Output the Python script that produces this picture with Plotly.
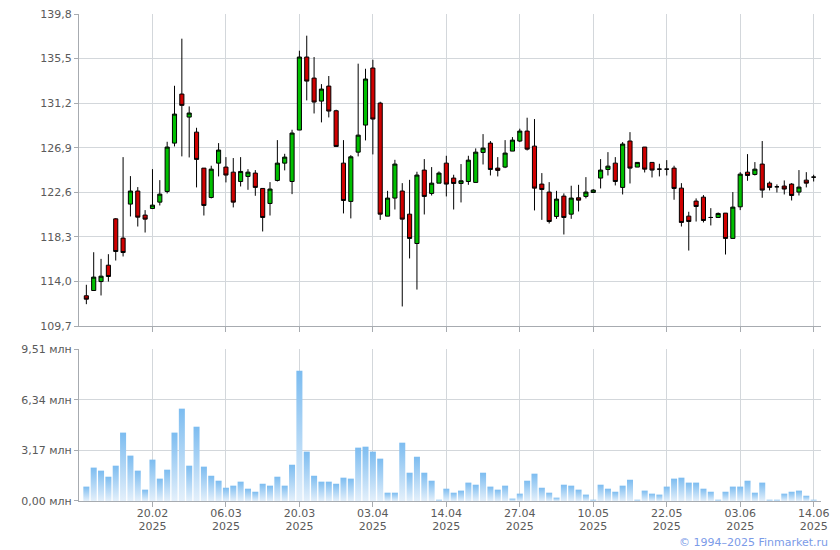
import plotly.graph_objects as go

# ---- data ----
opens = [112.63, 113.14, 114.00, 115.58, 120.05, 118.19, 121.47, 122.73, 120.41, 121.05,
         121.66, 122.69, 127.35, 132.08, 129.86, 128.41, 124.94, 122.11, 125.42, 125.04,
         124.55, 123.65, 124.14, 124.46, 122.98, 121.53, 123.75, 125.42, 123.65, 128.61,
         135.65, 133.62, 131.40, 132.85, 130.47, 125.42, 121.73, 126.48, 129.09, 134.59,
         131.21, 120.31, 122.05, 122.73, 120.50, 117.67, 124.75, 122.50, 123.49, 125.42,
         123.98, 123.46, 123.65, 123.56, 126.45, 127.35, 124.94, 125.04, 126.58, 127.55,
         128.51, 127.06, 123.40, 122.63, 120.28, 122.24, 120.50, 122.08, 122.21, 122.59,
         123.98, 124.81, 125.42, 123.08, 127.55, 125.04, 126.97, 125.49, 124.84, 124.84,
         124.94, 123.01, 120.31, 121.76, 122.14, 120.18, 120.18, 120.60, 118.16, 121.21,
         124.55, 124.33, 125.33, 123.49, 123.14, 123.21, 123.40, 122.63, 123.78, 124.07]
highs = [113.69, 116.83, 116.19, 116.64, 120.12, 126.00, 124.17, 123.11, 120.89, 124.84,
         123.78, 127.48, 132.88, 137.42, 130.89, 128.83, 124.94, 125.17, 127.35, 126.00,
         125.91, 126.00, 124.84, 124.75, 122.98, 123.59, 127.64, 126.32, 128.64, 136.26,
         137.71, 135.65, 133.04, 133.82, 130.57, 127.64, 126.19, 135.01, 134.52, 135.39,
         131.34, 122.75, 125.74, 123.49, 123.81, 124.59, 125.81, 125.04, 124.62, 126.13,
         124.30, 125.33, 126.13, 126.84, 128.22, 127.55, 126.00, 127.64, 127.93, 128.74,
         129.80, 129.67, 124.46, 123.59, 122.75, 122.50, 123.24, 123.33, 124.07, 122.92,
         125.81, 126.48, 126.00, 127.45, 128.41, 125.49, 126.97, 125.49, 125.36, 125.71,
         125.17, 123.49, 120.73, 122.02, 122.34, 121.08, 120.66, 120.60, 122.63, 124.55,
         126.29, 125.52, 127.55, 123.65, 123.37, 123.75, 123.49, 124.75, 124.55, 124.30]
lows = [111.82, 113.14, 112.66, 114.00, 116.03, 116.42, 120.28, 119.31, 118.73, 120.99,
        121.34, 122.50, 127.03, 126.07, 125.97, 123.08, 120.37, 122.02, 124.14, 123.56,
        121.15, 123.17, 122.85, 122.27, 118.83, 120.37, 123.65, 124.72, 122.43, 128.61,
        131.47, 130.21, 129.35, 129.83, 127.03, 120.57, 120.09, 126.07, 127.61, 126.26,
        119.95, 120.31, 120.95, 111.60, 116.23, 113.23, 120.47, 122.30, 123.49, 122.21,
        120.95, 121.63, 123.33, 123.56, 125.29, 124.23, 124.14, 124.94, 126.58, 127.45,
        126.64, 120.86, 119.95, 119.60, 120.05, 118.54, 120.05, 120.76, 122.02, 122.59,
        122.98, 124.23, 123.27, 122.40, 123.46, 125.04, 124.52, 124.04, 124.14, 124.23,
        121.89, 119.31, 116.99, 119.79, 119.70, 119.41, 120.18, 116.61, 118.16, 120.89,
        123.72, 124.23, 122.08, 122.79, 122.59, 122.40, 121.82, 122.30, 123.08, 123.65]
closes = [112.30, 114.43, 114.52, 114.49, 116.90, 116.80, 122.73, 120.21, 120.02, 121.37,
          122.43, 126.97, 130.15, 130.99, 130.25, 125.78, 121.34, 124.84, 126.68, 124.27,
          121.66, 124.62, 124.55, 123.08, 120.18, 122.92, 125.42, 126.00, 128.32, 135.65,
          133.33, 131.31, 132.56, 130.44, 127.03, 121.82, 126.03, 128.12, 133.53, 129.67,
          120.50, 122.05, 125.33, 120.02, 118.16, 124.27, 122.21, 123.49, 124.46, 123.40,
          123.46, 123.72, 125.71, 126.48, 126.87, 124.81, 124.72, 126.39, 127.64, 128.51,
          126.77, 123.01, 122.88, 119.79, 121.95, 120.18, 122.05, 121.85, 122.63, 122.82,
          124.75, 125.13, 123.65, 127.26, 124.94, 125.49, 124.84, 124.75, 124.84, 124.84,
          122.98, 119.70, 119.79, 121.24, 119.89, 120.18, 120.57, 118.16, 121.18, 124.36,
          124.23, 124.84, 122.82, 123.08, 123.14, 122.92, 122.30, 123.11, 123.49, 124.07]
volumes_mln = [0.90, 2.09, 1.90, 1.52, 2.21, 4.28, 2.84, 1.90, 0.71, 2.59,
               1.40, 1.96, 4.28, 5.78, 2.21, 4.65, 2.15, 1.58, 1.27, 0.83,
               0.96, 1.21, 0.77, 0.58, 1.08, 0.96, 1.52, 0.96, 2.27, 8.15,
               3.09, 1.58, 1.21, 1.21, 1.08, 1.46, 1.40, 3.34, 3.40, 3.09,
               2.65, 0.52, 0.52, 3.65, 1.77, 2.77, 1.77, 1.27, 0.08, 0.77,
               0.52, 0.65, 1.15, 1.02, 1.77, 0.90, 0.71, 0.96, 0.15, 0.46,
               1.27, 1.71, 0.83, 0.52, 0.21, 1.02, 0.96, 0.71, 0.40, 0.08,
               1.02, 0.77, 0.58, 0.96, 1.33, 0.08, 0.65, 0.46, 0.40, 0.90,
               1.40, 1.46, 1.15, 1.15, 0.77, 0.58, 0.08, 0.58, 0.90, 0.90,
               1.27, 0.52, 1.15, 0.08, 0.08, 0.46, 0.58, 0.65, 0.33, 0.08]

date_labels = ["20.02", "06.03", "20.03", "03.04", "14.04",
               "27.04", "10.05", "22.05", "03.06", "14.06"]
date_label_index = [9, 19, 29, 39, 49, 59, 69, 79, 89, 99]
year_labels = ["2025"] * len(date_labels)

price_ticks = [109.7, 114.0, 118.3, 122.6, 126.9, 131.2, 135.5, 139.8]
volume_ticks = [0.0, 3.17, 6.34, 9.51]

# ---- styling ----
FONT = "DejaVu Sans"
TXT = "#5a5a5a"
GRID = "#d3d7db"
AXIS = "#a7abb0"
UP = "#00c000"
DOWN = "#d00000"
BAR_TOP = "#7cbcf0"
BAR_BOTTOM = "#e4f0fb"

x = list(range(len(opens)))

fig = go.Figure()

fig.add_trace(go.Candlestick(
    x=x, open=opens, high=highs, low=lows, close=closes,
    increasing=dict(fillcolor=UP, line=dict(color="#000000", width=1)),
    decreasing=dict(fillcolor=DOWN, line=dict(color="#000000", width=1)),
    xaxis="x", yaxis="y", hoverinfo="skip", showlegend=False,
))

bw = 0.82
for i, v in zip(x, volumes_mln):
    fig.add_trace(go.Scatter(
        x=[i - bw / 2, i + bw / 2, i + bw / 2, i - bw / 2, i - bw / 2],
        y=[0, 0, v, v, 0],
        mode="lines", line=dict(width=0), fill="toself",
        fillcolor=BAR_TOP,
        fillgradient=dict(type="vertical",
                          colorscale=[[0, BAR_BOTTOM], [1, BAR_TOP]]),
        xaxis="x2", yaxis="y2", hoverinfo="skip", showlegend=False,
    ))

# invisible carrier so the second-line (year) date axis is drawn
fig.add_trace(go.Scatter(
    x=date_label_index, y=[0] * len(date_label_index), mode="markers",
    marker=dict(opacity=0, size=1), xaxis="x3", yaxis="y2",
    hoverinfo="skip", showlegend=False,
))

common_x = dict(
    range=[-1, 100], showgrid=True, gridcolor=GRID, gridwidth=1,
    showline=True, linecolor=AXIS, linewidth=1,
    ticks="outside", ticklen=5, tickcolor=AXIS,
    tickmode="array", zeroline=False, fixedrange=True, automargin=False,
    tickfont=dict(family=FONT, size=11, color=TXT),
)
common_y = dict(
    showgrid=True, gridcolor=GRID, gridwidth=1,
    showline=True, linecolor=AXIS, linewidth=1,
    ticks="outside", ticklen=4, tickcolor=AXIS,
    tickmode="array", zeroline=False, automargin=False,
    ticklabeloverflow="allow",
    tickfont=dict(family=FONT, size=11, color=TXT),
)

# the page body adds an 8px offset, so the figure is sized to fit the window
fig.update_layout(
    template="none",
    width=832, height=542,
    margin=dict(l=71, r=19, t=6, b=49, autoexpand=False),
    paper_bgcolor="white", plot_bgcolor="white",
    font=dict(family=FONT, size=11, color=TXT),
    showlegend=False, boxgap=0.2,
    xaxis=dict(common_x, domain=[0, 1], anchor="y",
               tickvals=date_label_index, showticklabels=False,
               rangeslider=dict(visible=False)),
    xaxis2=dict(common_x, domain=[0, 1], anchor="y2",
                tickvals=date_label_index, ticktext=date_labels,
                ticklabelstandoff=-3, ticklabeloverflow="allow"),
    xaxis3=dict(domain=[0, 1], anchor="y2", overlaying="x2", side="bottom",
                range=[-1, 100], showgrid=False, showline=False, zeroline=False,
                ticks="", tickmode="array", tickvals=date_label_index,
                ticktext=year_labels, ticklabelstandoff=17, automargin=False,
                ticklabeloverflow="allow", fixedrange=True,
                tickfont=dict(family=FONT, size=11, color=TXT)),
    yaxis=dict(common_y, domain=[0.359, 1], anchor="x",
               range=[price_ticks[0], price_ticks[-1]],
               tickvals=price_ticks,
               ticktext=[f"{t:.1f}".replace(".", ",") for t in price_ticks]),
    yaxis2=dict(common_y, domain=[0, 0.312], anchor="x2",
                range=[volume_ticks[0], volume_ticks[-1]],
                tickvals=volume_ticks,
                ticktext=[f"{t:.2f}".replace(".", ",") + " млн" for t in volume_ticks]),
    annotations=[dict(
        text="© 1994–2025 Finmarket.ru", xref="paper", yref="paper",
        x=1.012, y=-0.085, xanchor="right", yanchor="middle", showarrow=False,
        font=dict(family=FONT, size=11, color="#7b9be8"),
    )],
)

fig.write_html("out.html")
